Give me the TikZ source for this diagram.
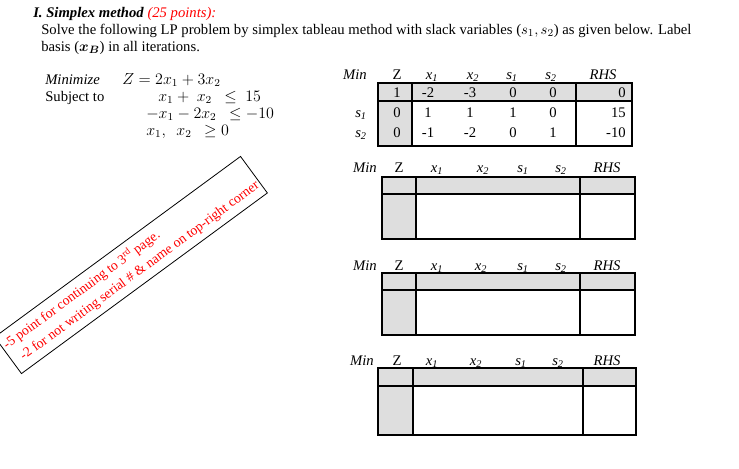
\documentclass[tikz,border=0pt]{standalone}
\usepackage{amsmath}
\usepackage{bm}
\usepackage{fontspec}
\setmainfont{Liberation Serif}
\begin{document}
\begin{tikzpicture}[x=0.75pt,y=-0.75pt,
  txt/.style={anchor=base west,inner sep=0pt,font=\fontsize{11}{13}\selectfont},
  hd/.style={anchor=base,inner sep=0pt,font=\fontsize{11}{13}\selectfont\itshape},
  cell/.style={anchor=base,inner sep=0pt,font=\fontsize{11}{13}\selectfont},
  grid/.style={draw=black,line width=0.8pt},
  gr/.style={fill=black!13}]
\useasboundingbox (0,0) rectangle (739,468);
\node[txt] (t1) at (33,17) {\textbf{\textit{I. Simplex method}} \textcolor{red}{\textit{(25 points):}}};
\node[txt] (t2) at (41,34) {Solve the following LP problem by simplex tableau method with slack variables ($s_1,s_2$) as given below. Label};
\node[txt] (t3) at (41,51) {basis ($\bm{x_B}$) in all iterations.};
\node[txt] (m1) at (45,84) {\textit{Minimize}};
\node[txt] (m2) at (122,84) {\large$Z=2x_1+3x_2$};
\node[txt] (m3) at (45,101) {Subject to};
\node[txt] (c1) at (158,101) {\large$x_1+\ x_2\ \ \le\ 15$};
\node[txt] (c2) at (146,118) {\large$-x_1-2x_2\ \ \le -10$};
\node[txt] (c3) at (146,135) {\large$x_1,\ \ x_2\ \ \ge 0$};
% rotated note
\node[draw,line width=0.6pt,minimum width=219pt,minimum height=34pt,rotate=36.3,inner sep=2pt,
  align=left,text=red,font=\fontsize{10.3}{14}\selectfont] (note) at (131,265)
  {-5 point for continuing to 3\textsuperscript{rd} page.\\ \ \ -2 for not writing serial \# \& name on top-right corner};
% table 1
\fill[gr] (378,83) rectangle (632,101);
\fill[gr] (378,101) rectangle (412,146);
\draw[grid] (378,83) rectangle (632,146);
\draw[grid] (378,101) -- (632,101);
\draw[grid] (412,83) -- (412,146);
\draw[line width=1.6pt] (576,83) -- (576,146);
\foreach \xx/\tt in {355/Min,432/x\textsubscript{\itshape 1},473/x\textsubscript{2},512/s\textsubscript{\itshape 1},551/s\textsubscript{2},603/RHS}
  \node[hd] at (\xx,79) {\tt};
\node[cell] (z0) at (397,79) {Z};
\node[hd] (b1) at (361,117) {s\textsubscript{\itshape 1}};
\node[hd] (b2) at (361,137) {s\textsubscript{2}};
\foreach \yy/\a/\b/\c/\d/\e/\f in {97/1/-2/-3/0/0/0,117/0/1/1/1/0/15,137/0/-1/-2/0/1/-10}{
  \node[cell] at (397,\yy) {\a};
  \node[cell] at (428,\yy) {\b};
  \node[cell] at (470,\yy) {\c};
  \node[cell] at (513,\yy) {\d};
  \node[cell] at (553,\yy) {\e};
  \node[cell,anchor=base east] at (626,\yy) {\f};}
% empty tables
\foreach \hy/\top/\mid/\bot/\L/\Zd/\B/\R/\mn/\zz/\xa/\xb/\sa/\sb in
 {172/177/194/239/382/416/580/635/365/399/437/483/523/561,
  270/273/290/335/382/416/580/635/365/399/437/481/523/561,
  365/368/386/435/378/413/583/636/362/397/432/476/521/558}{
  \fill[gr] (\L,\top) rectangle (\R,\mid);
  \fill[gr] (\L,\mid) rectangle (\Zd,\bot);
  \draw[grid] (\L,\top) rectangle (\R,\bot);
  \draw[grid] (\L,\mid) -- (\R,\mid);
  \draw[grid] (\Zd,\top) -- (\Zd,\bot);
  \draw[line width=1.6pt] (\B,\top) -- (\B,\bot);
  \node[hd] at (\mn,\hy) {Min};
  \node[cell] at (\zz,\hy) {Z};
  \node[hd] at (\xa,\hy) {x\textsubscript{\itshape 1}};
  \node[hd] at (\xb,\hy) {x\textsubscript{2}};
  \node[hd] at (\sa,\hy) {s\textsubscript{\itshape 1}};
  \node[hd] at (\sb,\hy) {s\textsubscript{2}};
  \node[hd] at (607,\hy) {RHS};}
\end{tikzpicture}
\end{document}
